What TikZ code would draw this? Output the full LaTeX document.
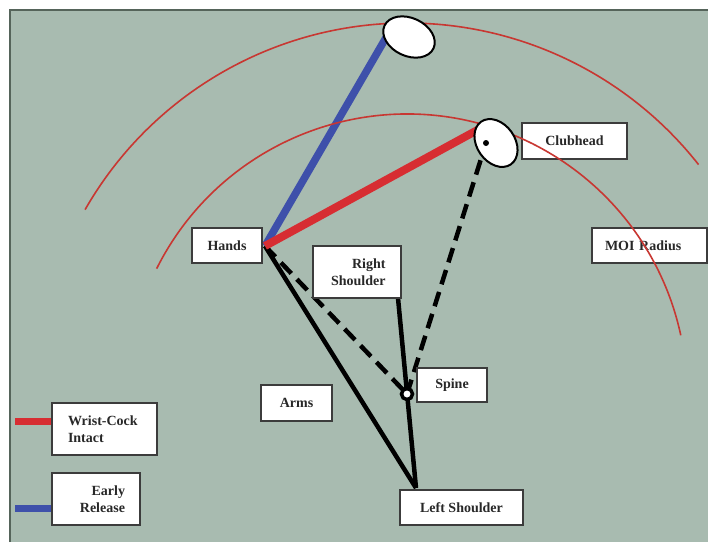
\documentclass[tikz,border=0pt]{standalone}
\usepackage{fontspec}
\setmainfont{Liberation Serif}
\definecolor{bg}{RGB}{168,187,176}
\definecolor{frame}{RGB}{85,100,90}
\definecolor{cockred}{RGB}{215,45,50}
\definecolor{releaseblue}{RGB}{62,80,170}
\definecolor{arcred}{RGB}{200,55,50}
\definecolor{boxline}{RGB}{60,60,60}
\definecolor{txt}{RGB}{40,40,40}
\begin{document}
\begin{tikzpicture}[x=1pt,y=-1pt,
  box/.style={draw=boxline, line width=2.2pt, fill=white, text=txt,
    font=\fontsize{14}{17}\selectfont\bfseries, inner sep=0pt, align=center},
  limb/.style={line width=4.5pt, black},
  dashlimb/.style={line width=4.5pt, black, dash pattern=on 15pt off 8pt},
  clubshaft/.style={line width=7.5pt},
  radius arc/.style={arcred, line width=1.6pt},
  clubface/.style={draw=black, line width=2pt, fill=white},
  legendbar/.style={line width=7pt}
]
\useasboundingbox (0,0) rectangle (708,542);
% backdrop with its top and left frame
\fill[bg] (10,10) rectangle (708,542);
\draw[frame, line width=2pt] (10,542) -- (10,10) -- (708,10);

% body points
\coordinate (grip) at (265,246);
\coordinate (early) at (391,29);
\coordinate (cocked) at (483,127);
\coordinate (pivot) at (407,394);
\coordinate (clubdot) at (486,143);
\coordinate (lsh) at (416,488);
\coordinate (rsh) at (398,298);
\coordinate (topface) at (409,37);
\coordinate (clubface) at (496,143);

% arms and shoulders
\draw[limb] (grip) -- (lsh);
\draw[limb] (rsh) -- (lsh);
\draw[dashlimb] (grip) -- (pivot);
\draw[dashlimb] (pivot) -- (clubdot);
\draw[line width=3.5pt, fill=white] (pivot) circle[radius=5.5];

% club shafts
\draw[clubshaft, releaseblue] (grip) -- (early);
\draw[clubshaft, cockred, line width=8pt] (grip) -- (cocked);

% labels
\node[box, minimum width=70, minimum height=35] (hands) at (227,245.5) {Hands};
\node[box, minimum width=88, minimum height=52, text width=57, inner xsep=15, align=right] (rs) at (357,272) {Right\\Shoulder};
\node[box, minimum width=105, minimum height=36] (clubhead) at (574.5,141) {Clubhead};
\node[box, minimum width=115, minimum height=35, text width=89, inner xsep=13, align=left] (moi) at (649.5,245.5) {MOI Radius};
\node[box, minimum width=70, minimum height=34] (spine) at (452,385) {Spine};
\node[box, minimum width=71, minimum height=36] (arms) at (296.5,403) {Arms};
\node[box, minimum width=123, minimum height=35] (ls) at (461.5,507.5) {Left Shoulder};
\node[box, minimum width=105, minimum height=52, text width=73, inner xsep=16, align=left] (wci) at (104.5,429) {Wrist-Cock\\Intact};
\node[box, minimum width=88, minimum height=52, text width=58, inner xsep=15, align=right] (er) at (96,499) {Early\\Release};

% legend bars
\coordinate (redbar) at (15,421);
\coordinate (bluebar) at (15,508);
\draw[legendbar, cockred] (redbar) -- (wci.west |- redbar);
\draw[legendbar, releaseblue] (bluebar) -- (er.west |- bluebar);

% moment-of-inertia arcs about the spine
\draw[radius arc] (pivot) ++(-153.4:280) arc[start angle=-153.4, end angle=-12.1, radius=280];
\draw[radius arc] (pivot) ++(-150.2:371) arc[start angle=-150.2, end angle=-38.2, radius=371];

% club heads
\draw[clubface, rotate around={-25:(topface)}] (topface) ellipse[x radius=27, y radius=19];
\draw[clubface, rotate around={-55:(clubface)}] (clubface) ellipse[x radius=26, y radius=19];
\fill[black] (clubdot) circle[radius=3];
\end{tikzpicture}
\end{document}
